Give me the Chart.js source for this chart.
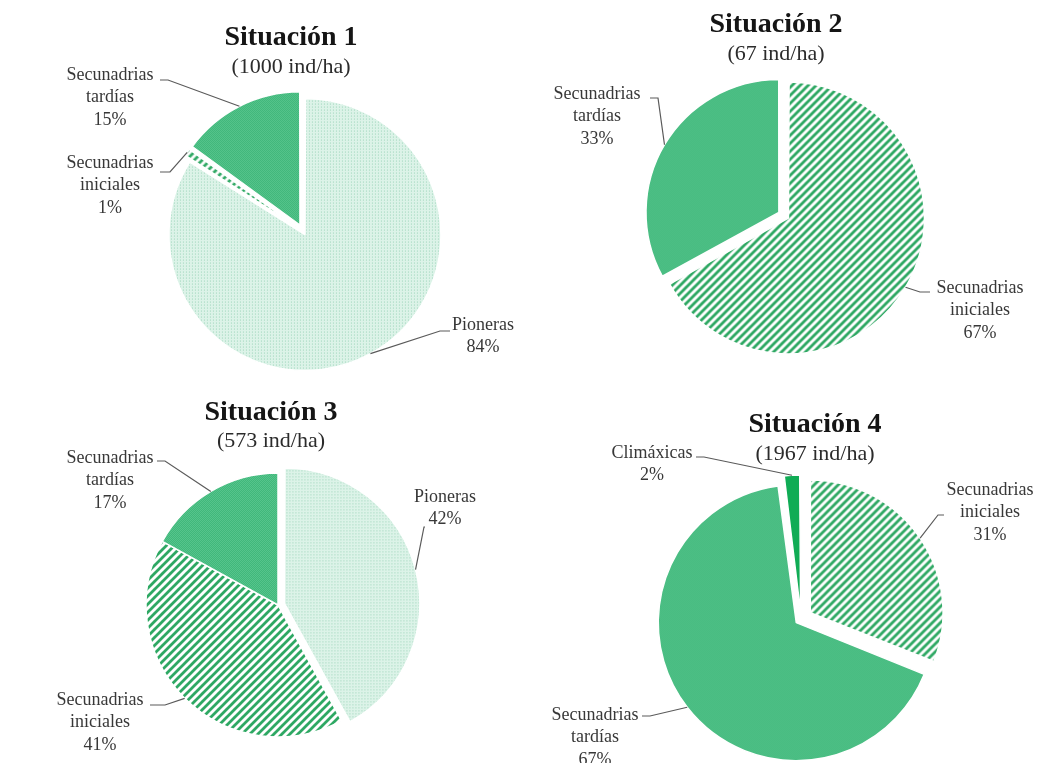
<!DOCTYPE html>
<html>
<head>
<meta charset="utf-8">
<script src="https://cdn.jsdelivr.net/npm/chart.js@4.4.1/dist/chart.umd.min.js"></script>
<style>
  html, body { margin: 0; padding: 0; background: #fff; overflow: hidden; }
  #wrap { position: relative; width: 1054px; height: 763px; }
  #wrap canvas { position: absolute; left: 0; top: 0; }
</style>
</head>
<body>
<div id="wrap">
  <canvas id="pie1" width="1054" height="763"></canvas>
  <canvas id="pie2" width="1054" height="763"></canvas>
  <canvas id="pie3" width="1054" height="763"></canvas>
  <canvas id="pie4" width="1054" height="763"></canvas>
</div>
<script>
  // data
  const titles = ['Situación 1', 'Situación 2', 'Situación 3', 'Situación 4'];
  const densities = [1000, 67, 573, 1967];

  const categories1 = ['Pioneras', 'Secunadrias iniciales', 'Secunadrias tardías'];
  const values1 = [84, 1, 15];
  const categories2 = ['Secunadrias iniciales', 'Secunadrias tardías'];
  const values2 = [67, 33];
  const categories3 = ['Pioneras', 'Secunadrias iniciales', 'Secunadrias tardías'];
  const values3 = [42, 41, 17];
  const categories4 = ['Secunadrias iniciales', 'Secunadrias tardías', 'Climáxicas'];
  const values4 = [31, 67, 2];

  // layout (page pixels)
  const RADIUS = 132;
  const centers = [[303, 231], [785, 216], [278, 605], [801, 619]];
  const explode = [[8, 8, 8], [8, 8], [10, 0, 0], [12, 12, 12]];
  const titlePos = [[291, 38, 67], [776, 25, 54], [271, 413, 441], [815, 425, 454]];
  // [text x, first line y, leader start x, leader start y, stub end x]
  const labelPos = [
    [[483, 325, 450, 331, 440], [110, 163, 160, 172, 170], [110, 75, 160, 80, 168]],
    [[980, 288, 930, 292, 920], [597, 94, 650, 98, 658]],
    [[445, 497, 425, 527, 424], [100, 700, 150, 705, 165], [110, 458, 157, 461, 165]],
    [[990, 490, 944, 515, 938], [595, 715, 642, 716, 650], [652, 453, 696, 457, 704]]
  ];

  // fills
  function dotFill() {
    const c = document.createElement('canvas');
    c.width = 3; c.height = 3;
    const x = c.getContext('2d');
    x.fillStyle = '#dcf3e8';
    x.fillRect(0, 0, 3, 3);
    x.fillStyle = '#9cd5ba';
    x.fillRect(1, 1, 1, 1);
    return x.createPattern(c, 'repeat');
  }
  function stripeFill() {
    const s = 8;
    const c = document.createElement('canvas');
    c.width = s; c.height = s;
    const x = c.getContext('2d');
    x.fillStyle = '#ffffff';
    x.fillRect(0, 0, s, s);
    x.strokeStyle = '#2ea863';
    x.lineWidth = 2.8;
    x.beginPath();
    x.moveTo(0, s); x.lineTo(s, 0);
    x.moveTo(-1, 1); x.lineTo(1, -1);
    x.moveTo(s - 1, s + 1); x.lineTo(s + 1, s - 1);
    x.stroke();
    return x.createPattern(c, 'repeat');
  }
  function checkFill() {
    const c = document.createElement('canvas');
    c.width = 2; c.height = 2;
    const x = c.getContext('2d');
    x.fillStyle = '#40b87b';
    x.fillRect(0, 0, 2, 2);
    x.fillStyle = '#56c48c';
    x.fillRect(0, 0, 1, 1);
    x.fillRect(1, 1, 1, 1);
    return x.createPattern(c, 'repeat');
  }
  const fills = {
    'Pioneras': dotFill(),
    'Secunadrias iniciales': stripeFill(),
    'Secunadrias tardías': checkFill(),
    'Climáxicas': '#10ac55'
  };

  const SERIF = '"Liberation Serif", "Times New Roman", serif';

  // titles, labels and leader lines
  const pieText = {
    id: 'pieText',
    afterDatasetsDraw(chart, args, opts) {
      const ctx = chart.ctx;
      const k = opts.index;
      const cats = chart.data.labels;
      const vals = chart.data.datasets[0].data;
      const meta = chart.getDatasetMeta(0);
      ctx.save();
      ctx.textAlign = 'center';
      ctx.textBaseline = 'middle';

      const tp = titlePos[k];
      ctx.fillStyle = '#151515';
      ctx.font = 'bold 28px ' + SERIF;
      ctx.fillText(titles[k], tp[0], tp[1]);
      ctx.fillStyle = '#2b2b2b';
      ctx.font = '22px ' + SERIF;
      ctx.fillText('(' + densities[k] + ' ind/ha)', tp[0], tp[2]);

      meta.data.forEach((arc, i) => {
        const p = arc.getProps(['x', 'y', 'startAngle', 'endAngle', 'outerRadius'], true);
        const half = (p.startAngle + p.endAngle) / 2;
        const r = p.outerRadius + explode[k][i];
        const ax = p.x + Math.cos(half) * r;
        const ay = p.y + Math.sin(half) * r;
        const lp = labelPos[k][i];

        ctx.strokeStyle = '#5a5a5a';
        ctx.lineWidth = 1.2;
        ctx.beginPath();
        ctx.moveTo(lp[2], lp[3]);
        ctx.lineTo(lp[4], lp[3]);
        ctx.lineTo(ax, ay);
        ctx.stroke();

        const lines = cats[i].split(' ').concat([vals[i] + '%']);
        ctx.fillStyle = '#383838';
        ctx.font = '18px ' + SERIF;
        lines.forEach((t, j) => ctx.fillText(t, lp[0], lp[1] + j * 22.5));
      });
      ctx.restore();
    }
  };

  function makePie(id, k, cats, vals) {
    const [cx, cy] = centers[k];
    const box = 140;
    new Chart(document.getElementById(id), {
      type: 'pie',
      data: {
        labels: cats,
        datasets: [{
          data: vals,
          backgroundColor: cats.map(c => fills[c]),
          borderColor: '#ffffff',
          borderWidth: 1.5,
          // chart.js moves an arc by offset/4*(1+fix), undo that to get pixels
          offset: (c) => {
            const d = c.dataset.data;
            const tot = d.reduce((a, b) => a + b, 0);
            const circ = d[c.dataIndex] / tot * 2 * Math.PI;
            const fix = 1 - Math.sin(Math.min(Math.PI, circ));
            return explode[k][c.dataIndex] * 4 / (1 + fix);
          },
          hoverOffset: 0,
          clip: false
        }]
      },
      options: {
        responsive: false,
        animation: false,
        radius: RADIUS,
        layout: {
          padding: {
            left: cx - box,
            right: 1054 - cx - box,
            top: cy - box,
            bottom: 763 - cy - box
          }
        },
        plugins: {
          legend: { display: false },
          tooltip: { enabled: false },
          pieText: { index: k }
        }
      },
      plugins: [pieText]
    });
  }

  makePie('pie1', 0, categories1, values1);
  makePie('pie2', 1, categories2, values2);
  makePie('pie3', 2, categories3, values3);
  makePie('pie4', 3, categories4, values4);
</script>
</body>
</html>
